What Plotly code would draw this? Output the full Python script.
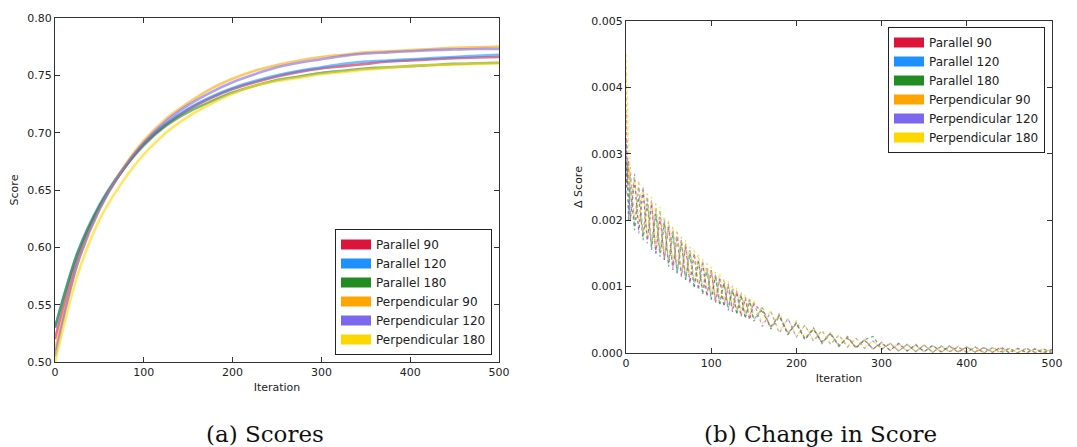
import plotly.graph_objects as go

# ---------------- data ----------------
series_names = ["Parallel 90", "Parallel 120", "Parallel 180",
                "Perpendicular 90", "Perpendicular 120", "Perpendicular 180"]
series_colors = ["#DC143C", "#1E90FF", "#228B22", "#FFA500", "#7B68EE", "#FFD700"]

# (a) Scores, sampled every 25 iterations
iter_score = list(range(0, 501, 25))
score_par90 = [0.520, 0.590, 0.635, 0.666, 0.690, 0.707, 0.720, 0.730, 0.738, 0.744, 0.749,
               0.753, 0.756, 0.758, 0.760, 0.762, 0.763, 0.764, 0.765, 0.7655, 0.766]
score_par120 = [0.530, 0.595, 0.637, 0.667, 0.691, 0.708, 0.721, 0.731, 0.739, 0.745, 0.750,
                0.754, 0.757, 0.760, 0.762, 0.763, 0.764, 0.765, 0.766, 0.767, 0.768]
score_par180 = [0.530, 0.594, 0.636, 0.666, 0.689, 0.706, 0.718, 0.727, 0.735, 0.741, 0.746,
                0.749, 0.752, 0.754, 0.756, 0.757, 0.758, 0.759, 0.760, 0.7605, 0.761]
score_perp90 = [0.510, 0.585, 0.633, 0.667, 0.693, 0.712, 0.726, 0.738, 0.747, 0.754, 0.759,
                0.763, 0.766, 0.768, 0.770, 0.771, 0.772, 0.773, 0.774, 0.7745, 0.775]
score_perp120 = [0.505, 0.585, 0.633, 0.666, 0.691, 0.710, 0.724, 0.735, 0.744, 0.751, 0.757,
                 0.761, 0.764, 0.767, 0.769, 0.770, 0.771, 0.772, 0.7725, 0.773, 0.773]
score_perp180 = [0.500, 0.575, 0.624, 0.656, 0.681, 0.700, 0.714, 0.725, 0.734, 0.741, 0.745,
                 0.748, 0.751, 0.753, 0.755, 0.7565, 0.758, 0.759, 0.7595, 0.760, 0.7605]

# (b) Change in score (units of 1e-5)
iter_delta = [0, 1, 3] + list(range(5, 151, 5)) + list(range(160, 501, 10))
delta_par90 = [360, 250, 290, 200, 260, 185, 245, 170, 225, 150, 205, 140, 190, 125, 175, 115, 160,
               105, 150, 95, 135, 85, 125, 75, 112, 70, 100, 62, 92, 55, 82, 50, 74,
               62, 40, 56, 30, 44, 22, 36, 17, 28, 12, 22, 9, 19, 6, 15, 4, 14, 3, 12, 2,
               11, 2, 10, 1, 9, 2, 8, 1, 9, 0, 7, 1, 6, 0, 5]
delta_par120 = [300, 320, 210, 270, 190, 250, 175, 235, 160, 215, 150, 200, 135, 185, 120, 170, 110,
                155, 100, 140, 92, 128, 82, 118, 74, 106, 68, 96, 60, 88, 54, 80, 50,
                68, 38, 58, 28, 46, 20, 38, 14, 30, 10, 25, 8, 20, 6, 16, 4, 15, 3, 13, 2,
                12, 1, 11, 2, 9, 1, 8, 2, 7, 1, 7, 0, 6, 1, 5]
delta_par180 = [240, 290, 200, 250, 185, 235, 170, 225, 155, 210, 145, 195, 130, 180, 120, 165, 110,
                150, 98, 138, 88, 125, 80, 115, 72, 105, 64, 95, 58, 86, 52, 78, 48,
                66, 36, 55, 28, 45, 20, 36, 15, 30, 10, 24, 7, 20, 25, 6, 14, 3, 13, 2, 12,
                1, 10, 2, 9, 1, 9, 0, 8, 2, 7, 0, 7, 1, 6, 0]
delta_perp90 = [420, 340, 250, 280, 200, 260, 180, 240, 165, 225, 155, 205, 140, 190, 130, 175, 118,
                160, 108, 148, 98, 135, 88, 122, 80, 112, 72, 102, 64, 92, 58, 84, 52,
                70, 38, 60, 30, 48, 22, 38, 16, 30, 12, 24, 9, 20, 6, 16, 4, 14, 3, 12, 2,
                11, 1, 10, 2, 9, 1, 8, 1, 7, 2, 7, 0, 6, 1, 6]
delta_perp120 = [320, 280, 230, 200, 270, 180, 250, 165, 230, 150, 215, 140, 198, 128, 182, 118, 165,
                 108, 150, 98, 138, 88, 126, 80, 114, 72, 104, 66, 94, 60, 84, 54, 76,
                 40, 62, 30, 52, 24, 42, 18, 34, 13, 27, 9, 22, 7, 18, 5, 15, 3, 13, 2, 12,
                 1, 11, 2, 10, 1, 9, 1, 8, 0, 7, 1, 7, 0, 6, 1]
delta_perp180 = [450, 400, 310, 230, 265, 195, 250, 175, 235, 160, 220, 150, 200, 138, 185, 125, 170,
                 115, 155, 104, 142, 95, 130, 86, 120, 78, 108, 70, 98, 62, 88, 56, 80,
                 44, 64, 32, 52, 25, 42, 19, 34, 14, 27, 10, 22, 8, 18, 6, 15, 4, 13, 3, 12,
                 2, 10, 1, 10, 2, 9, 1, 8, 1, 7, 0, 7, 1, 6, 1]
DELTA_UNIT = 1e-5

score_series = [score_par90, score_par120, score_par180, score_perp90, score_perp120, score_perp180]
delta_series = [delta_par90, delta_par120, delta_par180, delta_perp90, delta_perp120, delta_perp180]

# ---------------- figure ----------------
W, H = 1077, 447
fig = go.Figure()

for name, color, ys in zip(series_names, series_colors, score_series):
    fig.add_trace(go.Scatter(x=iter_score, y=ys, mode="lines", name=name,
                             line=dict(color=color, width=2.6, shape="spline", smoothing=0.8),
                             opacity=0.6, showlegend=False, xaxis="x", yaxis="y",
                             hoverinfo="skip"))
for name, color, ys in zip(series_names, series_colors, delta_series):
    fig.add_trace(go.Scatter(x=iter_delta, y=[v * DELTA_UNIT for v in ys], mode="lines", name=name,
                             line=dict(color=color, width=1.2, dash="dot"),
                             opacity=0.65, showlegend=False, xaxis="x2", yaxis="y2",
                             hoverinfo="skip"))

# legend patches
for lg, xa, ya in [("legend", "x", "y"), ("legend2", "x2", "y2")]:
    for name, color in zip(series_names, series_colors):
        fig.add_trace(go.Scatter(x=[None], y=[None], mode="lines", name=name,
                                 line=dict(color=color, width=10), legend=lg,
                                 xaxis=xa, yaxis=ya, showlegend=True))

tick_font = dict(family="DejaVu Sans", size=11, color="#222")
axis_common = dict(showgrid=False, zeroline=False, showline=True, linecolor="#333", linewidth=1.3,
                   mirror="ticks", ticks="inside", ticklen=5, tickwidth=1, tickcolor="#333",
                   tickfont=tick_font, automargin=False)


def px_x(p):
    return p / W


def px_y(p):
    return 1 - p / H


fig.update_layout(
    width=W, height=H,
    margin=dict(l=0, r=0, t=0, b=0, autoexpand=False),
    paper_bgcolor="white", plot_bgcolor="white",
    font=dict(family="DejaVu Sans", color="#222"),
    xaxis=dict(domain=[px_x(55), px_x(499)], range=[0, 500], dtick=100, anchor="y",
               title=dict(text="Iteration", font=dict(size=11), standoff=4), **axis_common),
    yaxis=dict(domain=[px_y(362), px_y(18)], range=[0.50, 0.80], dtick=0.05, tickformat=".2f",
               anchor="x", title=dict(text="Score", font=dict(size=11), standoff=6), **axis_common),
    xaxis2=dict(domain=[px_x(626), px_x(1052)], range=[0, 500], dtick=100, anchor="y2",
                title=dict(text="Iteration", font=dict(size=11), standoff=4), **axis_common),
    yaxis2=dict(domain=[px_y(353), px_y(21)], range=[0, 0.005], dtick=0.001, tickformat=".3f",
                anchor="x2", title=dict(text="Δ Score", font=dict(size=11), standoff=6), **axis_common),
    legend=dict(x=px_x(492), y=px_y(355), xanchor="right", yanchor="bottom",
                bgcolor="white", bordercolor="#222", borderwidth=1,
                font=dict(family="DejaVu Sans", size=12, color="#222")),
    legend2=dict(x=px_x(1045), y=px_y(27), xanchor="right", yanchor="top",
                 bgcolor="white", bordercolor="#222", borderwidth=1,
                 font=dict(family="DejaVu Sans", size=12, color="#222")),
    annotations=[
        dict(text="(a) Scores", x=px_x(265), y=px_y(434), xref="paper", yref="paper",
             showarrow=False, xanchor="center", yanchor="middle",
             font=dict(family="DejaVu Serif", size=23, color="#111")),
        dict(text="(b) Change in Score", x=px_x(820), y=px_y(434), xref="paper", yref="paper",
             showarrow=False, xanchor="center", yanchor="middle",
             font=dict(family="DejaVu Serif", size=23, color="#111")),
    ],
)

fig.write_html("out.html",
               config={"displayModeBar": False},
               post_script="document.body.style.margin='0px';document.body.style.padding='0px';"
                           "document.body.style.overflow='hidden';")
